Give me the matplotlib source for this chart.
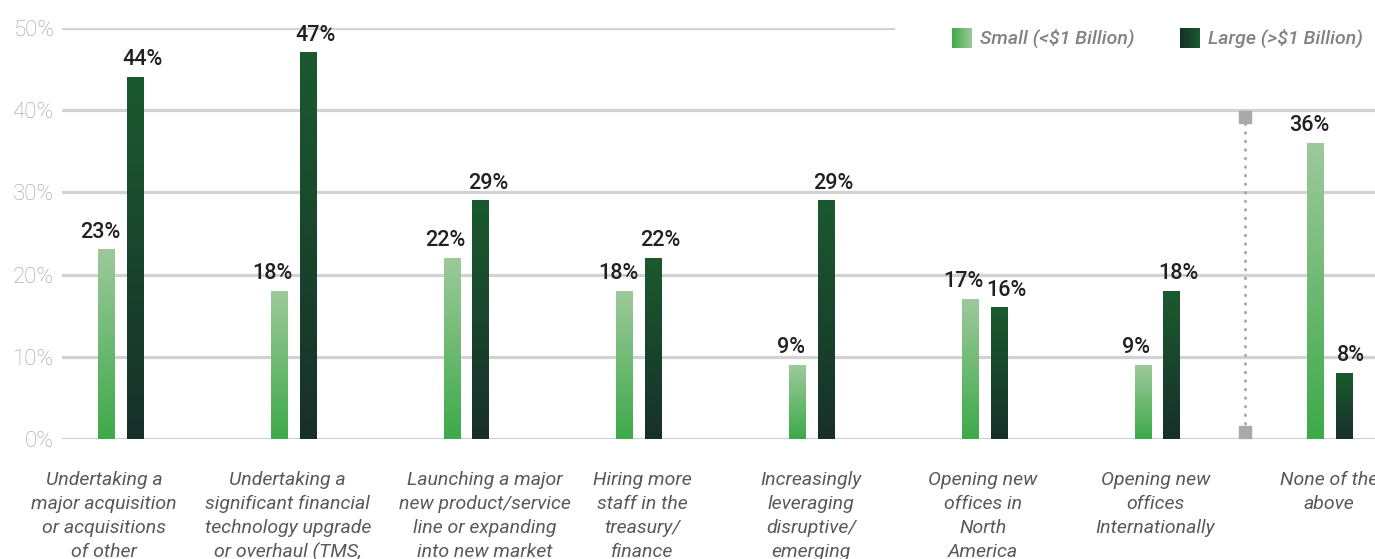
import numpy as np
import matplotlib
matplotlib.use("Agg")
import matplotlib.pyplot as plt
from matplotlib.colors import LinearSegmentedColormap

plt.rcParams['font.family'] = ['Roboto', 'DejaVu Sans']

categories = [
    "Undertaking a\nmajor acquisition\nor acquisitions\nof other",
    "Undertaking a\nsignificant financial\ntechnology upgrade\nor overhaul (TMS,",
    "Launching a major\nnew product/service\nline or expanding\ninto new market",
    "Hiring more\nstaff in the\ntreasury/\nfinance",
    "Increasingly\nleveraging\ndisruptive/\nemerging",
    "Opening new\noffices in\nNorth\nAmerica",
    "Opening new\noffices\nInternationally",
    "None of the\nabove",
]
small = [23, 18, 22, 18, 9, 17, 9, 36]
large = [44, 47, 29, 22, 29, 16, 18, 8]
series_names = ["Small (<$1 Billion)", "Large (>$1 Billion)"]
yticks = [0, 10, 20, 30, 40, 50]

# horizontal nudge of each category label, in pixels
label_shift = [-17, -6, 18, 3, -1, -2, -2, -1]

small_cmap = LinearSegmentedColormap.from_list("small", ["#3daa49", "#9dc99b"])
large_cmap = LinearSegmentedColormap.from_list("large", ["#17302a", "#1b5a2e"])

W, H = 1375, 559
fig = plt.figure(figsize=(W / 100, H / 100), dpi=100)
ax = fig.add_axes([62 / W, 1 - 439 / H, 1 - 62 / W, (439 - 28) / H])

x = np.arange(len(categories))
bw = 0.098
off = 0.083


def gradient_bars(xs, vals, cmap, dx):
    bars = ax.bar(xs, vals, width=bw, color="none", zorder=3)
    grad = np.linspace(0, 1, 256).reshape(-1, 1)
    for b, v in zip(bars, vals):
        x0 = b.get_x()
        ax.imshow(grad, cmap=cmap, origin="lower", aspect="auto",
                  extent=(x0, x0 + b.get_width(), 0, b.get_height()), zorder=3)
        ax.annotate(f"{v}%", (x0 + b.get_width() / 2, v), xytext=(dx, 5),
                    textcoords="offset points", ha="center", va="bottom",
                    fontsize=15.5, fontweight="medium", color="#231f20")


gradient_bars(x - off, small, small_cmap, -5)
gradient_bars(x + off, large, large_cmap, 5)

ax.set_xlim(-0.342, 7.26)
ax.set_ylim(0, 50)

# grid lines, the top one stops short of the legend
for t in yticks[:-1]:
    ax.axhline(t, color="#d1d2d4", lw=2.3, zorder=1)
ax.axhline(50, xmax=0.633, color="#d1d2d4", lw=2.3, zorder=1)

ax.set_yticks(yticks)
ax.set_yticklabels([f"{t}%" for t in yticks], fontsize=16,
                   fontweight="light", color="#9d9fa2")
ax.tick_params(axis="y", length=0, pad=6)
ax.set_xticks([])
for s in ax.spines.values():
    s.set_visible(False)

for xi, lab, sh in zip(x, categories, label_shift):
    ax.annotate(lab, (xi, 0), xycoords=("data", "axes fraction"),
                xytext=(sh * 0.72, -23), textcoords="offset points",
                ha="center", va="top", fontsize=14, style="italic",
                color="#58595b", linespacing=1.42,
                annotation_clip=False)

# divider before "None of the above"
ax.plot([6.508, 6.508], [0.8, 39.2], color="#a7a9ac", lw=2.2,
        linestyle=(0, (0.1, 2.7)), dash_capstyle="round", zorder=2)
ax.plot([6.508, 6.508], [0.8, 39.2], ls="none", marker="s",
        markersize=8, color="#a7a9ac", zorder=2)

# legend
leg_x = [952, 1180]
for lx, name, cmap, in zip(leg_x, series_names, [small_cmap, large_cmap]):
    sw = fig.add_axes([lx / W, 1 - 48 / H, 20 / W, 20 / H])
    sw.imshow(np.linspace(0, 1, 64).reshape(1, -1), cmap=cmap, aspect="auto")
    sw.axis("off")
    fig.text((lx + 28) / W, 1 - 38 / H, name, fontsize=14, style="italic",
             fontweight="medium", color="#808285", va="center", ha="left")

fig.savefig("out.png", dpi=100)
